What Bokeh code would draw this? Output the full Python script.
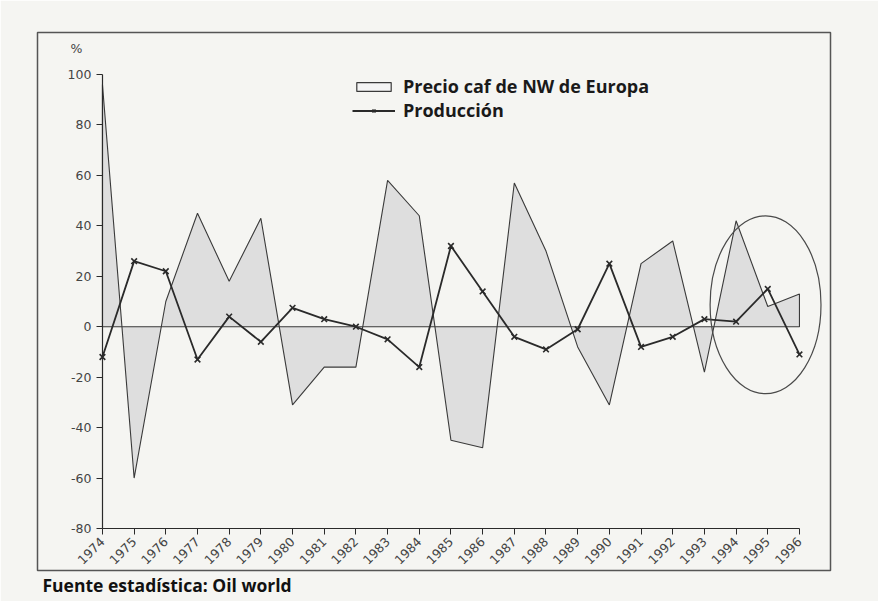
import math
from bokeh.plotting import figure
from bokeh.models import Legend, LegendItem, FixedTicker, Title, Label, Range1d
from bokeh.embed import file_html
from bokeh.resources import INLINE

# ---- data ----
years = list(range(1974, 1997))
precio = [96, -60, 10, 45, 18, 43, -31, -16, -16, 58, 44, -45, -48, 57, 30, -8, -31, 25, 34, -18, 42, 8, 13]
produccion = [-12, 26, 22, -13, 4, -6, 7.5, 3, 0, -5, -16, 32, 14, -4, -9, -1, 25, -8, -4, 3, 2, 15, -11]
y_ticks = [-80, -60, -40, -20, 0, 20, 40, 60, 80, 100]
y_tick_labels = ["-80", "-60", "-40", "-20", "0", "20", "40", "60", "80", "100"]
x_tick_labels = [str(y) for y in years]
serie_precio = "Precio caf de NW de Europa"
serie_prod = "Producción"
fuente = "Fuente estadística: Oil world"
# highlighted period (ellipse around 1994-1996)
resalte_x, resalte_y, resalte_w, resalte_h = 1994.93, 8.7, 3.5, 70.5

FONT = "Open Sans"
TICK_FONT = "DejaVu Sans"
BG = "#f5f5f2"
INK = "#2a2a2a"

p = figure(width=878, height=601, output_backend="svg", toolbar_location=None,
           x_range=Range1d(1971.95, 1996.98), y_range=Range1d(-96.65, 116.65),
           min_border_left=37, min_border_right=48, min_border_top=32, min_border_bottom=31)
p.background_fill_color = BG
p.border_fill_color = BG
p.outline_line_color = "#555555"
p.outline_line_width = 1.5
p.grid.visible = False

# axes inside the frame
p.yaxis.fixed_location = years[0]
p.yaxis.bounds = (y_ticks[0], y_ticks[-1])
p.yaxis.ticker = FixedTicker(ticks=y_ticks)
p.yaxis.major_label_overrides = dict(zip(y_ticks, y_tick_labels))
p.xaxis.fixed_location = y_ticks[0]
p.xaxis.bounds = (years[0], years[-1])
p.xaxis.ticker = FixedTicker(ticks=years)
p.xaxis.major_label_overrides = dict(zip(years, x_tick_labels))
p.xaxis.major_label_orientation = math.pi / 4
for ax in (p.xaxis, p.yaxis):
    ax.axis_line_color = INK
    ax.axis_line_width = 1.2
    ax.major_tick_line_color = INK
    ax.major_tick_out = 6
    ax.major_tick_in = 0
    ax.minor_tick_line_color = None
    ax.major_label_text_font = TICK_FONT
    ax.major_label_text_font_size = "12.5px"
    ax.major_label_text_color = "#444444"
    ax.major_label_standoff = 5

# price area (closed to zero baseline)
px = [years[0]] + years + [years[-1]]
py = [0] + precio + [0]
p.patch(px, py, fill_color="#dedede", fill_alpha=1.0,
        line_color="#3a3a3a", line_width=1.1)
# key-only renderer for the price series (open box, as in the original key)
r_precio_key = p.patch(x=[float("nan")], y=[float("nan")], fill_color="#f4f4f4",
                       line_color="#3a3a3a", line_width=1.2)

# production line with x markers
r_line = p.line(years, produccion, line_color=INK, line_width=1.8)
r_pts = p.scatter(years, produccion, marker="x", size=8, line_color=INK, line_width=1.6)

# highlight ellipse
p.ellipse(x=[resalte_x], y=[resalte_y], width=[resalte_w], height=[resalte_h],
          fill_color=None, line_color="#4a4a4a", line_width=1.2)

legend = Legend(items=[LegendItem(label=serie_precio, renderers=[r_precio_key]),
                       LegendItem(label=serie_prod, renderers=[r_line, r_pts])],
                location=(315, 448), orientation="vertical")
legend.background_fill_alpha = 0
legend.border_line_color = None
legend.padding = 0
legend.margin = 0
legend.spacing = 0
legend.glyph_width = 43
legend.glyph_height = 11
legend.label_standoff = 8
legend.label_text_font = FONT
legend.label_text_font_style = "bold"
legend.label_text_font_size = "18px"
legend.label_text_color = "#1a1a1a"
p.add_layout(legend)

p.add_layout(Label(x=years[0], y=y_ticks[-1], x_offset=-32, y_offset=18, text="%",
                   text_font=TICK_FONT, text_font_size="12.5px", text_color="#444444"))

p.add_layout(Title(text=fuente, align="left", offset=5, text_font=FONT,
                   text_font_style="bold", text_font_size="17.5px", text_color="#111111",
                   standoff=0), "below")

open("out.html", "w").write(file_html(p, INLINE))
